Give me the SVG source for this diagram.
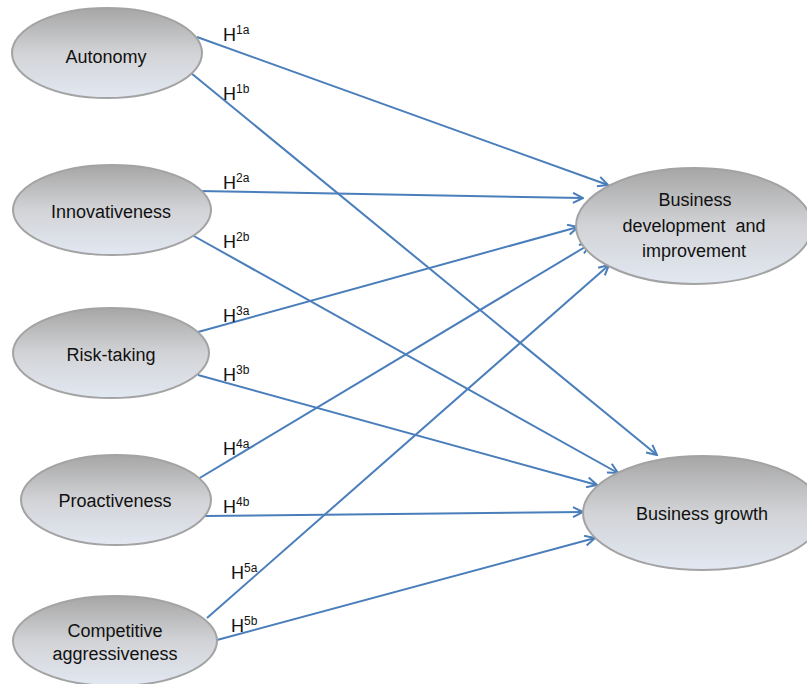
<svg xmlns="http://www.w3.org/2000/svg" width="807" height="684" viewBox="0 0 807 684">
<style>
.node ellipse{fill:url(#g);stroke:#a3a3a3;stroke-width:2}
.node text{font-family:"Liberation Sans",Arial,sans-serif;font-size:18px;fill:#111;text-anchor:middle}
#connectors line{stroke:#4a7ebb;stroke-width:2;marker-end:url(#arr)}
.lab{font-family:"Liberation Sans",Arial,sans-serif;font-size:18px;fill:#111}
.lab tspan.s{font-size:12px}
</style>
<defs>
<linearGradient id="g" x1="0" y1="0" x2="0" y2="1">
<stop offset="0" stop-color="#a6a6a6"/>
<stop offset="0.5" stop-color="#d2d3d6"/>
<stop offset="1" stop-color="#e2e8f2"/>
</linearGradient>
<marker id="arr" viewBox="0 0 12 12" refX="11" refY="6" markerWidth="12" markerHeight="12" markerUnits="userSpaceOnUse" orient="auto">
<path d="M1,1 L11,6 L1,11" fill="none" stroke="#4a7ebb" stroke-width="2"/>
</marker>
</defs>
<rect width="807" height="684" fill="#fff"/>
<g id="connectors">
<line x1="197" y1="37" x2="608" y2="185"/>
<line x1="191" y1="73" x2="657" y2="455"/>
<line x1="198" y1="191" x2="583" y2="198"/>
<line x1="192" y1="235" x2="618" y2="473"/>
<line x1="198" y1="332" x2="578" y2="227"/>
<line x1="198" y1="375" x2="597" y2="485"/>
<line x1="198" y1="479" x2="590" y2="244"/>
<line x1="205" y1="516" x2="583" y2="512"/>
<line x1="207" y1="618" x2="609" y2="265"/>
<line x1="217" y1="640" x2="595" y2="538"/>
</g>
<g id="labels">
<text class="lab" x="223" y="41">H<tspan class="s" dy="-7">1a</tspan></text>
<text class="lab" x="223" y="100">H<tspan class="s" dy="-7">1b</tspan></text>
<text class="lab" x="223" y="189">H<tspan class="s" dy="-7">2a</tspan></text>
<text class="lab" x="223" y="248">H<tspan class="s" dy="-7">2b</tspan></text>
<text class="lab" x="223" y="322">H<tspan class="s" dy="-7">3a</tspan></text>
<text class="lab" x="223" y="381">H<tspan class="s" dy="-7">3b</tspan></text>
<text class="lab" x="223" y="455">H<tspan class="s" dy="-7">4a</tspan></text>
<text class="lab" x="223" y="513">H<tspan class="s" dy="-7">4b</tspan></text>
<text class="lab" x="231" y="579">H<tspan class="s" dy="-7">5a</tspan></text>
<text class="lab" x="231" y="632">H<tspan class="s" dy="-7">5b</tspan></text>
</g>
<g id="autonomy" class="node"><ellipse cx="107" cy="53" rx="95" ry="45"/><text x="106" y="63">Autonomy</text></g>
<g id="innovativeness" class="node"><ellipse cx="112" cy="210" rx="99" ry="45"/><text x="111" y="218">Innovativeness</text></g>
<g id="risk-taking" class="node"><ellipse cx="111" cy="353" rx="98" ry="45"/><text x="111" y="361">Risk-taking</text></g>
<g id="proactiveness" class="node"><ellipse cx="116" cy="500" rx="95" ry="45"/><text x="115" y="507">Proactiveness</text></g>
<g id="competitive" class="node"><ellipse cx="115" cy="641" rx="102" ry="45"/><text x="115" y="637">Competitive</text><text x="115" y="660">aggressiveness</text></g>
<g id="bdi" class="node"><ellipse cx="694" cy="226" rx="118" ry="58"/><text x="695" y="206">Business</text><text x="694" y="232" xml:space="preserve">development  and</text><text x="694" y="257">improvement</text></g>
<g id="growth" class="node"><ellipse cx="703" cy="513" rx="120" ry="57"/><text x="702" y="520">Business growth</text></g>
</svg>
